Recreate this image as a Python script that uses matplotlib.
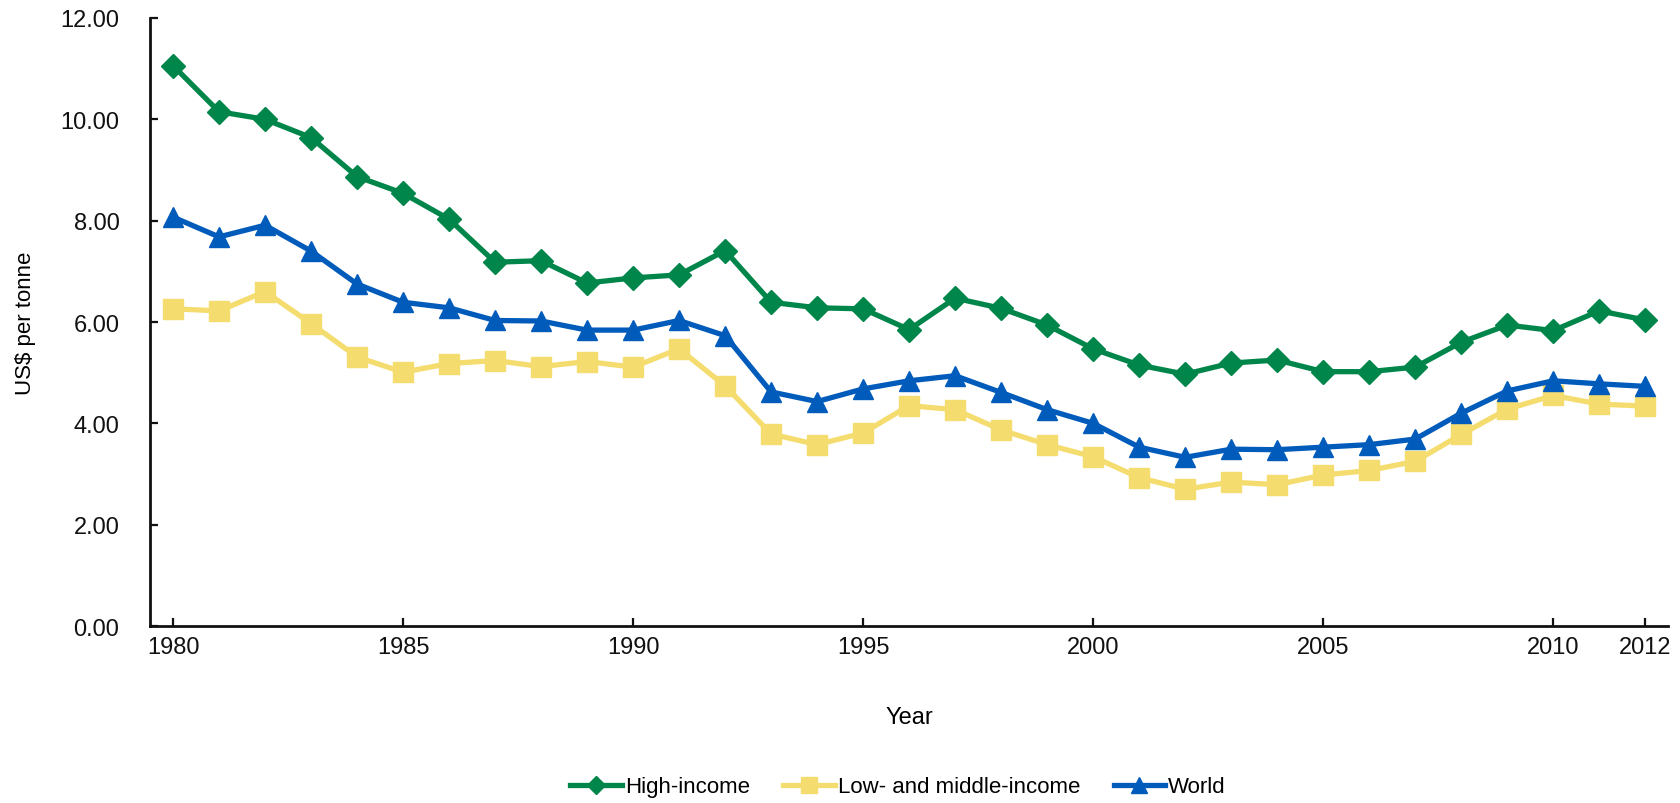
import matplotlib
matplotlib.use("Agg")
import matplotlib.pyplot as plt
from matplotlib.ticker import FormatStrFormatter

plt.rcParams['font.family'] = ['Liberation Sans', 'DejaVu Sans']
FS = 16

years = list(range(1980, 2013))

high_income = [11.06, 10.15, 10.00, 9.64, 8.87, 8.54, 8.03, 7.18, 7.21, 6.77,
               6.87, 6.93, 7.41, 6.39, 6.28, 6.26, 5.85, 6.47, 6.27, 5.94,
               5.47, 5.15, 4.97, 5.19, 5.25, 5.02, 5.02, 5.11, 5.60, 5.94,
               5.83, 6.22, 6.04]

low_middle_income = [6.26, 6.22, 6.60, 5.97, 5.31, 5.01, 5.18, 5.24, 5.12, 5.22,
                     5.11, 5.47, 4.74, 3.79, 3.58, 3.81, 4.35, 4.27, 3.87, 3.58,
                     3.34, 2.93, 2.70, 2.84, 2.79, 2.98, 3.07, 3.25, 3.78, 4.28,
                     4.55, 4.38, 4.34]

world = [8.07, 7.68, 7.91, 7.40, 6.75, 6.39, 6.28, 6.03, 6.02, 5.84,
         5.84, 6.03, 5.73, 4.62, 4.43, 4.68, 4.84, 4.94, 4.61, 4.27,
         4.00, 3.53, 3.33, 3.49, 3.48, 3.53, 3.58, 3.69, 4.20, 4.64,
         4.84, 4.78, 4.73]

x_ticks = [1980, 1985, 1990, 1995, 2000, 2005, 2010, 2012]
y_ticks = [0, 2, 4, 6, 8, 10, 12]

GREEN = "#00854A"
YELLOW = "#F5DC6E"
BLUE = "#005BBB"

fig = plt.figure(figsize=(16.8, 8.04), dpi=100)
ax = fig.add_axes([0.0893, 0.2201, 0.9037, 0.7563])

ax.plot(years, high_income, color=GREEN, lw=3.8, marker="D", ms=12.5,
        label="High-income")
ax.plot(years, low_middle_income, color=YELLOW, lw=3.8, marker="s", ms=14.5,
        label="Low- and middle-income")
ax.plot(years, world, color=BLUE, lw=3.8, marker="^", ms=15,
        label="World")

ax.set_xlim(1979.5, 2012.5)
ax.set_ylim(0, 12)
ax.set_xticks(x_ticks)
ax.set_yticks(y_ticks)
ax.yaxis.set_major_formatter(FormatStrFormatter("%.2f"))

for side in ("top", "right"):
    ax.spines[side].set_visible(False)
for side in ("left", "bottom"):
    ax.spines[side].set_linewidth(2)
    ax.spines[side].set_color("#111111")

ax.tick_params(axis="both", direction="in", length=6, width=1.6,
               labelsize=FS + 1, colors="#111111")
ax.tick_params(axis="x", pad=7)
ax.tick_params(axis="y", pad=22)

ax.set_xlabel("Year", fontsize=FS + 1, va="center")
ax.xaxis.set_label_coords(0.5, -0.1497)
ax.set_ylabel("US$ per tonne", fontsize=FS)
ax.yaxis.set_label_coords(-0.075, 0.5)

fig.legend(loc="center", bbox_to_anchor=(898 / 1680, 1 - 788 / 804),
           ncol=3, frameon=False, fontsize=FS, handlelength=2.33,
           columnspacing=1.5, handletextpad=0.13, markerscale=0.75)

fig.savefig("out.png", dpi=100)
